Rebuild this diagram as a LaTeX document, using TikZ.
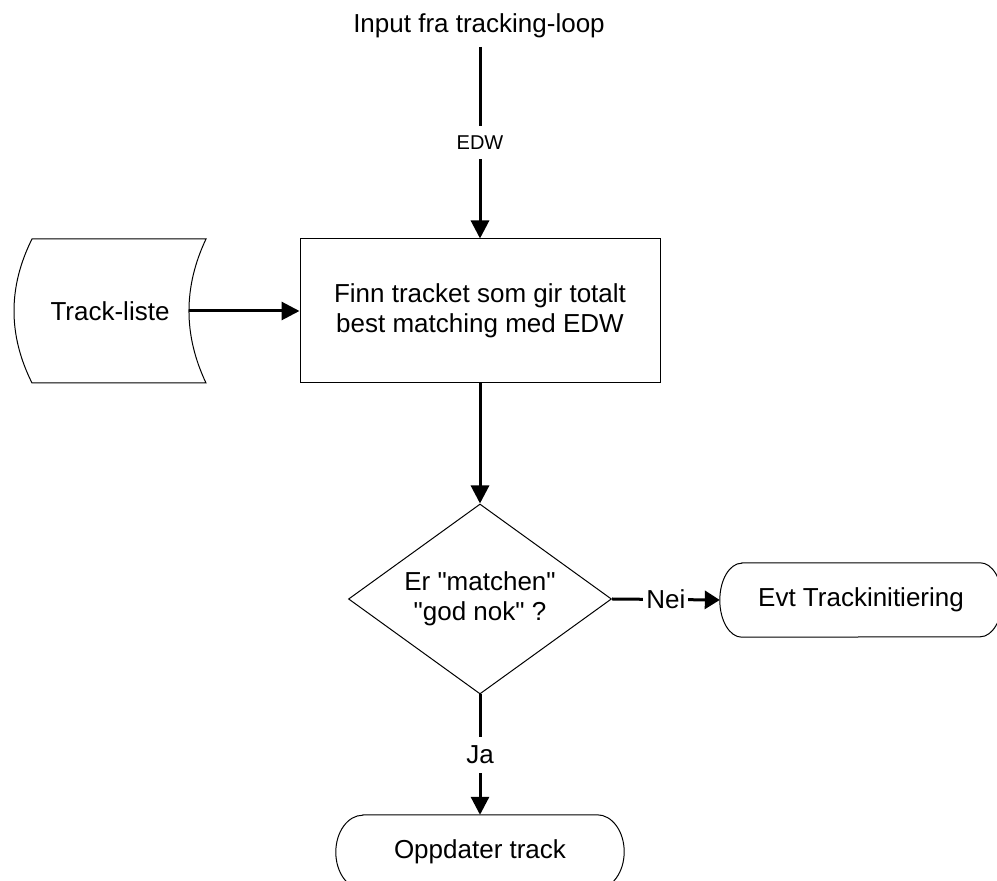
\documentclass[tikz,border=0pt]{standalone}
\usepackage{fontspec}
\setmainfont{Liberation Sans}[Ligatures=TeXOff]
\usetikzlibrary{arrows.meta,shapes.geometric}

% outline of a terminator: straight top and bottom, elliptical ends
\newcommand{\drawcapsule}[2]{%
  \draw[outline] ([xshift=#2]#1.north west) -- ([xshift=-#2]#1.north east)
    arc[start angle=90, end angle=-90, x radius=#2, y radius=37pt]
    -- ([xshift=#2]#1.south west)
    arc[start angle=270, end angle=90, x radius=#2, y radius=37pt] -- cycle;}

\begin{document}
\begin{tikzpicture}[x=1pt,y=1pt,
  every node/.style={font=\fontsize{26}{30}\selectfont, inner sep=0pt},
  outline/.style={draw=black, line width=1pt},
  flow/.style={line width=3pt, -{Triangle[length=18pt,width=18pt]}},
  shortflow/.style={line width=3pt, -{Triangle[length=15pt,width=18pt]}},
  gaplabel/.style={fill=white, inner xsep=3pt, inner ysep=9pt},
  terminal/.style={minimum height=74pt},
]
\useasboundingbox (0,0) rectangle (997,881);
\clip (0,0) rectangle (997,881);

% input from the tracking loop
\node[anchor=base] (title) at (479,848) {Input fra tracking-loop};
\coordinate (in) at (480,834);

% processing step
\node[outline, minimum width=360pt, minimum height=144pt, align=center]
  (find) at (480,570) {Finn tracket som gir totalt\\best matching med EDW};

\draw[flow] (in) -- node[gaplabel, font=\fontsize{20}{24}\selectfont, inner ysep=9.5pt] (edw) {EDW} (find.north);

% stored track list
\draw[outline] (32,642) -- (206,642)
  .. controls (183.3,594) and (183.3,546) .. (206,498)
  -- (32,498)
  .. controls (8,546) and (8,594) .. (32,642) -- cycle;
\node (store) at (110,570) {Track-liste};
\coordinate (storeout) at (189,570);
\draw[flow] (storeout) -- (find.west);

% decision
\node[diamond, outline, aspect=1.4, minimum width=263pt, minimum height=190pt, align=center]
  (check) at (480,282) {Er "matchen"\\"god nok" ?};
\draw[flow] (find.south) -- (check.north);

% outcomes
\node[terminal, minimum width=282pt] (init) at (861,281) {Evt Trackinitiering};
\drawcapsule{init}{22pt}
\node[terminal, minimum width=288pt] (upd) at (480,29) {Oppdater track};
\drawcapsule{upd}{27pt}

\draw[shortflow] (check.east) -- node[gaplabel] (nei) {Nei} (init.west);
\draw[flow] (check.south) -- node[gaplabel] (ja) {Ja} (upd.north);
\end{tikzpicture}
\end{document}
